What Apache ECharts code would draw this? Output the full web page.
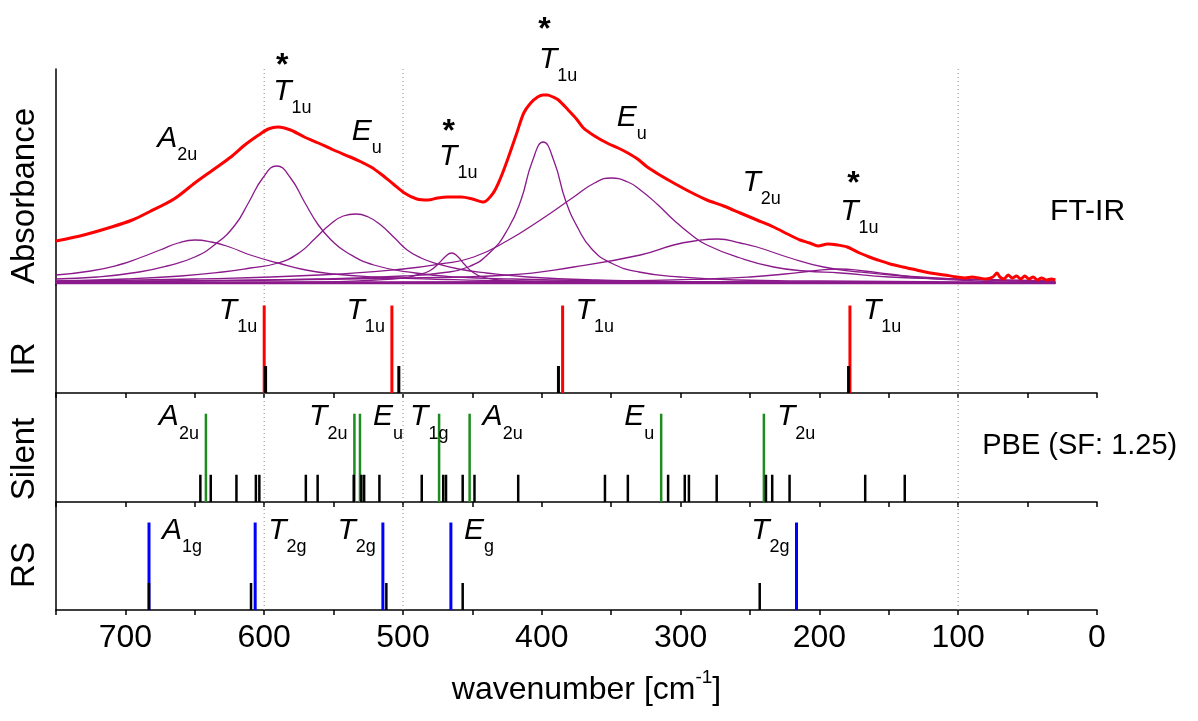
<!DOCTYPE html>
<html>
<head>
<meta charset="utf-8">
<title>FT-IR and PBE modes</title>
<script src="https://cdn.jsdelivr.net/npm/echarts@6/dist/echarts.min.js"></script>
<style>
  html, body { margin: 0; padding: 0; background: #fff; }
  #chart { width: 1198px; height: 721px; }
</style>
</head>
<body>
<div id="chart"></div>
<script>
// ---- data (wavenumber in cm-1, absorbance in arbitrary units) ----
const ftirSpectrum = [
  [750, 42], [730, 48], [710, 56], [695, 63], [683, 71], [665, 84], [650, 100], [637, 113],
  [624, 126], [614, 138], [604, 148], [597, 154], [590, 156], [581, 153], [571, 146], [561, 140],
  [550, 133], [538, 126], [530, 121], [523, 116], [515, 108], [507, 99], [499, 90], [490, 84],
  [482, 83], [475, 85], [468, 86], [458, 86], [450, 84], [442, 81], [435, 90], [430, 104],
  [424, 126], [418, 150], [413, 170], [408, 180], [403, 186], [399, 188], [396, 188], [392, 186],
  [388, 183], [381, 173], [375, 164], [370, 155], [362, 147], [353, 140], [345, 135], [338, 130],
  [331, 124], [324, 116], [315, 108], [305, 100], [293, 91], [281, 83], [269, 77], [257, 70],
  [245, 63], [233, 56], [223, 49], [214, 43], [207, 40], [201, 37], [194, 39], [187, 38],
  [180, 36], [171, 30], [164, 26], [158, 23], [149, 19], [140, 16], [130, 13], [120, 10],
  [110, 8], [101, 6], [95, 5], [90, 6], [85, 5], [80, 4], [75, 6], [72, 10], [70, 6], [67, 4],
  [64, 8], [61, 5], [58, 7], [55, 4], [52, 7], [49, 4], [46, 6], [43, 3], [40, 5], [36, 3],
  [33, 4], [30, 3]
];

// fitted band components
const bandA2u = [
  [750, 8], [725, 12], [705, 18], [690, 25], [675, 33], [662, 40], [650, 43], [638, 41],
  [625, 36], [610, 28], [590, 20], [570, 13], [550, 9], [520, 6], [480, 4], [420, 2], [330, 1], [30, 0]
];
const bandT1u591 = [
  [750, 4], [720, 6], [690, 11], [670, 17], [650, 26], [635, 39], [621, 58], [611, 81],
  [601, 105], [591, 117], [581, 105], [571, 81], [561, 58], [551, 42], [541, 31], [521, 18],
  [491, 10], [461, 6], [420, 4], [350, 2], [250, 1], [30, 0]
];
const bandEu534 = [
  [750, 2], [700, 4], [660, 7], [630, 11], [610, 15], [590, 20], [575, 30], [563, 45],
  [553, 58], [543, 67], [534, 69], [525, 66], [516, 58], [506, 45], [497, 33], [487, 25],
  [475, 19], [460, 14], [440, 10], [410, 6], [360, 3], [280, 1], [30, 0]
];
const bandT1u465 = [
  [750, 0], [560, 1], [520, 3], [500, 5], [490, 8], [481, 12], [474, 20], [469, 27], [465, 30],
  [461, 27], [456, 19], [450, 11], [443, 6], [430, 3], [400, 1], [300, 0], [30, 0]
];
const bandT1u399 = [
  [750, 1], [650, 2], [560, 4], [500, 7], [473, 10], [453, 16], [437, 31], [424, 55], [415, 83],
  [407, 121], [399, 141], [391, 121], [383, 83], [374, 55], [364, 34], [350, 20], [330, 11],
  [300, 6], [260, 3], [200, 2], [100, 1], [30, 0]
];
const bandEu350 = [
  [750, 2], [650, 4], [560, 8], [500, 14], [473, 19], [449, 26], [424, 43], [401, 63], [377, 86],
  [362, 100], [350, 105], [338, 101], [329, 93], [317, 79], [305, 63], [293, 49], [281, 38],
  [257, 25], [233, 16], [210, 12], [185, 10], [150, 6], [100, 4], [30, 2]
];
const bandT2u = [
  [750, 1], [600, 3], [500, 5], [424, 8], [377, 16], [329, 28], [305, 38], [290, 42], [273, 44],
  [257, 40], [245, 36], [221, 25], [197, 16], [171, 11], [140, 7], [100, 4], [30, 1]
];
const bandT1u186 = [
  [750, 0], [500, 1], [350, 2], [280, 4], [250, 6], [225, 9], [205, 12], [186, 14], [168, 12],
  [150, 9], [125, 5], [100, 3], [60, 1], [30, 1]
];
const fitBaseline = [[750, 0], [30, 0]];

// stick spectra
const irModes = [600, 508, 385, 178];
const irPbe = [599, 503, 388, 179];
const silentModes = [642, 535, 531, 474, 452, 314, 240];
const silentPbe = [646, 638.5, 620, 606, 603.5, 570, 561.5, 535.5, 530, 528, 517, 486.5, 471,
  469, 457, 448.5, 417, 354.5, 338, 309, 297, 294, 274, 238.5, 234, 221.5, 167, 138.5];
const ramanModes = [683, 606.5, 514.5, 465.5, 216.5];
const ramanPbe = [683, 609.5, 512, 457, 243];
const modeHeight = 0.81;
const pbeHeight = 0.25;

const refLines = [600, 500, 100];
const xTicks = { min: 0, max: 750, step: 50 };

// annotations: [wavenumber, height, symbol, subscript]
const peakLabels = [
  [677, 139, 'A', '2u'], [593.5, 186, 'T', '1u'], [537, 146, 'E', 'u'], [474, 121, 'T', '1u'],
  [402, 218, 'T', '1u'], [346, 160, 'E', 'u'], [255.4, 95, 'T', '2u'], [185, 66, 'T', '1u']
];
const starMarks = [[587, 217], [467, 151], [398, 253], [175.5, 99]];
const irLabels = [[600, 'T', '1u', 'left'], [508, 'T', '1u', 'left'], [385, 'T', '1u', 'right'], [178, 'T', '1u', 'right']];
const silentLabels = [[642, 'A', '2u', 'left'], [535, 'T', '2u', 'left'], [531, 'E', 'u', 'right'],
  [474, 'T', '1g', 'across'], [452, 'A', '2u', 'right'], [314, 'E', 'u', 'left'], [240, 'T', '2u', 'right']];
const ramanLabels = [[683, 'A', '1g', 'right'], [606.5, 'T', '2g', 'right'], [514.5, 'T', '2g', 'left'],
  [465.5, 'E', 'g', 'right'], [216.5, 'T', '2g', 'left']];

// ---- chart ----
const FONT = "'Liberation Sans', Arial, sans-serif";
const PURPLE = '#8b1a8b';
const INK = '#000';

const chart = echarts.init(document.getElementById('chart'));

const gridLeft = 56, gridRight = 101;
const grids = [
  { left: gridLeft, right: gridRight, top: 69, height: 216 },
  { left: gridLeft, right: gridRight, top: 285, height: 108 },
  { left: gridLeft, right: gridRight, top: 393, height: 109 },
  { left: gridLeft, right: gridRight, top: 502, height: 108 },
  { left: gridLeft, right: gridRight, top: 69, height: 541 }
];

function xAxisFor(i, opts) {
  return Object.assign({
    gridIndex: i, type: 'value', min: xTicks.min, max: xTicks.max, interval: xTicks.step, inverse: true,
    axisLine: { show: true, onZero: false, lineStyle: { color: INK, width: 1.5 } },
    axisTick: { show: true, length: 5, lineStyle: { color: INK, width: 1.5 } },
    axisLabel: { show: false },
    splitLine: { show: false }
  }, opts || {});
}

function yAxisFor(i, min, max, show) {
  return {
    gridIndex: i, type: 'value', min: min, max: max, show: show,
    axisLine: { show: true, onZero: false, lineStyle: { color: INK, width: 1.5 } },
    axisTick: { show: false },
    axisLabel: { show: false },
    splitLine: { show: false }
  };
}

const xAxes = [
  xAxisFor(0, { show: false }),
  xAxisFor(1),
  xAxisFor(2),
  xAxisFor(3, {
    axisLabel: {
      show: true, margin: 12, color: INK, fontFamily: FONT, fontSize: 32,
      formatter: (v) => (v % 100 === 0 ? String(v) : '')
    },
    name: 'wavenumber [cm{sup|-1}]',
    nameLocation: 'middle',
    nameGap: 58,
    nameTextStyle: {
      color: INK, fontFamily: FONT, fontSize: 32, lineHeight: 44, padding: [0, 0, 0, 20],
      rich: { sup: { fontFamily: FONT, fontSize: 19, color: INK, verticalAlign: 'top' } }
    }
  }),
  xAxisFor(4, { show: false })
];

const yAxes = [
  yAxisFor(0, -2, 214, true),
  yAxisFor(1, 0, 1, true),
  yAxisFor(2, 0, 1, true),
  yAxisFor(3, 0, 1, true),
  yAxisFor(4, 0, 1, false)
];

function bandSeries(data, color, width) {
  return {
    type: 'line', xAxisIndex: 0, yAxisIndex: 0, data: data, showSymbol: false, silent: true,
    smooth: 0.5, z: 3,
    lineStyle: { color: color, width: width }
  };
}

function stickSeries(idx, positions, height, color, width, z) {
  return {
    type: 'custom', xAxisIndex: idx, yAxisIndex: idx, silent: true, z: z,
    data: positions.map((w) => [w, height]),
    renderItem: (params, api) => {
      const top = api.coord([api.value(0), api.value(1)]);
      const base = api.coord([api.value(0), 0]);
      return {
        type: 'line',
        shape: { x1: top[0], y1: top[1], x2: base[0], y2: base[1] },
        style: { stroke: color, lineWidth: width }
      };
    }
  };
}

const labelRich = {
  m: { fontFamily: FONT, fontSize: 30, fontStyle: 'italic', color: INK, verticalAlign: 'top' },
  s: { fontFamily: FONT, fontSize: 18, color: INK, verticalAlign: 'bottom', lineHeight: 41 }
};

function textSeries(idx, data) {
  return {
    type: 'scatter', xAxisIndex: idx, yAxisIndex: idx, symbolSize: 0, silent: true, clip: false, z: 6,
    itemStyle: { opacity: 1 },
    label: {
      show: true, position: 'right', distance: 0, rich: labelRich, color: INK,
      formatter: (p) => (p.data.sub !== undefined ? `{m|${p.data.main}}{s|${p.data.sub}}` : p.data.main)
    },
    data: data
  };
}

function modeLabelSeries(idx, labels, v) {
  return textSeries(idx, labels.map(([w, m, s, side]) => {
    let label;
    if (side === 'left') label = { position: 'left', distance: 7 };
    else if (side === 'right') label = { position: 'right', distance: 13 };
    else label = { position: 'right', distance: 0, offset: [-29, 0] };
    return { value: [w, v], main: m, sub: s, label: label };
  }));
}

function plainText(idx, w, v, text, size) {
  return Object.assign(textSeries(idx, [{ value: [w, v], main: text }]), {
    label: { show: true, position: 'right', distance: 0, formatter: text, color: INK, fontFamily: FONT, fontSize: size }
  });
}

const series = [
  // dotted reference lines across all panels
  {
    type: 'custom', xAxisIndex: 4, yAxisIndex: 4, silent: true, z: 1,
    data: refLines.map((w) => [w]),
    renderItem: (params, api) => {
      const a = api.coord([api.value(0), 1]);
      const b = api.coord([api.value(0), 0]);
      return {
        type: 'line', shape: { x1: a[0], y1: a[1], x2: b[0], y2: b[1] },
        style: { stroke: '#8c8c8c', lineWidth: 1, lineDash: [1, 3] }
      };
    }
  },
  bandSeries(fitBaseline, PURPLE, 2.5),
  bandSeries(bandA2u, PURPLE, 1.3),
  bandSeries(bandT1u591, PURPLE, 1.3),
  bandSeries(bandEu534, PURPLE, 1.3),
  bandSeries(bandT1u465, PURPLE, 1.3),
  bandSeries(bandT1u399, PURPLE, 1.3),
  bandSeries(bandEu350, PURPLE, 1.3),
  bandSeries(bandT2u, PURPLE, 1.3),
  bandSeries(bandT1u186, PURPLE, 1.3),
  Object.assign(bandSeries(ftirSpectrum, '#ff0000', 3), { smooth: 0.3, z: 4 }),

  textSeries(0, peakLabels.map(([w, a, m, s]) => ({ value: [w, a], main: m, sub: s }))),
  Object.assign(textSeries(0, starMarks.map(([w, a]) => ({ value: [w, a], main: '*' }))), {
    label: { show: true, position: 'inside', formatter: '*', color: INK, fontFamily: FONT, fontSize: 32, fontWeight: 'bold' }
  }),
  plainText(0, 33.8, 71.5, 'FT-IR', 30),

  stickSeries(1, irModes, modeHeight, '#ff0000', 3, 3),
  stickSeries(1, irPbe, pbeHeight, INK, 3, 4),
  modeLabelSeries(1, irLabels, 0.713),

  stickSeries(2, silentModes, modeHeight, '#1e8c1e', 2.5, 3),
  stickSeries(2, silentPbe, pbeHeight, INK, 2.5, 4),
  modeLabelSeries(2, silentLabels, 0.73),
  plainText(2, 82.7, 0.514, 'PBE (SF: 1.25)', 29),

  stickSeries(3, ramanModes, modeHeight, '#0000ff', 3, 3),
  stickSeries(3, ramanPbe, pbeHeight, INK, 2.5, 4),
  modeLabelSeries(3, ramanLabels, 0.685)
];

const panelNames = [['Absorbance', 196], ['IR', 359], ['Silent', 459], ['RS', 565]];

chart.setOption({
  animation: false,
  backgroundColor: '#fff',
  grid: grids,
  xAxis: xAxes,
  yAxis: yAxes,
  series: series,
  graphic: panelNames.map(([text, y]) => ({
    type: 'text', x: 25, y: y, rotation: Math.PI / 2, silent: true,
    style: { text: text, fill: INK, font: `33px ${FONT}`, align: 'center', verticalAlign: 'middle',
      textAlign: 'center', textVerticalAlign: 'middle' }
  }))
});

window.addEventListener('resize', () => chart.resize());
</script>
</body>
</html>
